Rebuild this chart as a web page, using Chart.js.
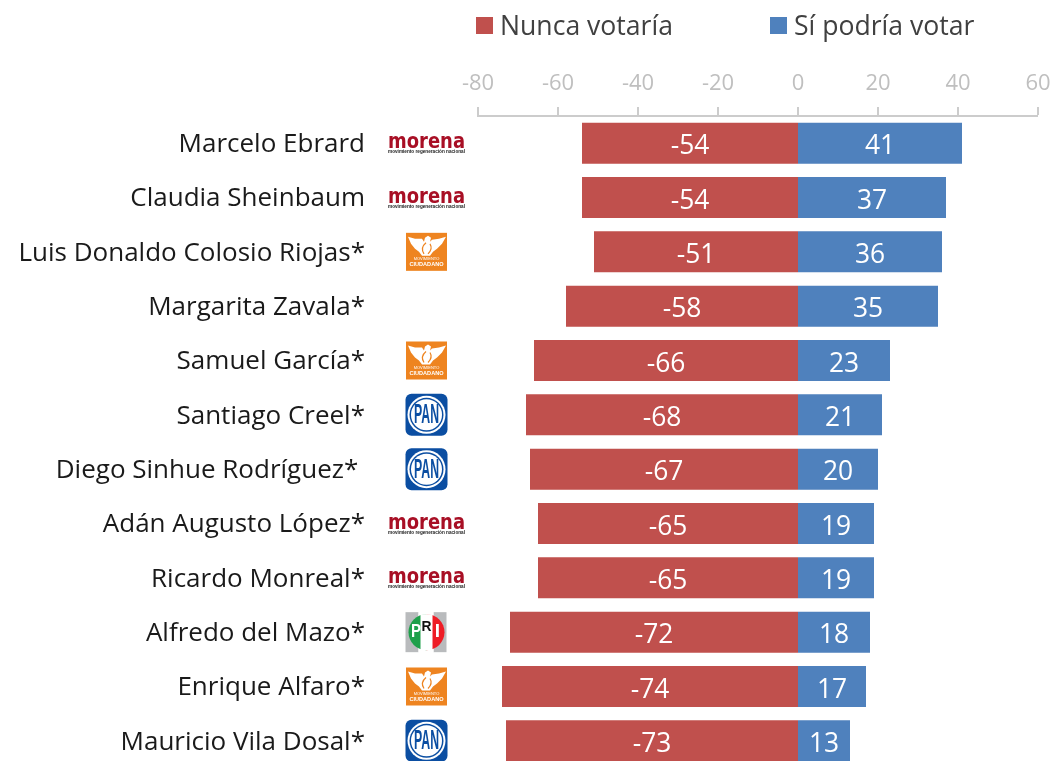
<!DOCTYPE html>
<html lang="es">
<head>
<meta charset="utf-8">
<title>Nunca votaría / Sí podría votar</title>
<script src="https://cdn.jsdelivr.net/npm/chart.js@4/dist/chart.umd.min.js"></script>
<style>
    html, body { margin: 0; padding: 0; background: #fff; overflow: hidden; }
    #wrap { position: relative; width: 1053px; height: 761px; overflow: hidden; }
    #chart { position: absolute; left: 0; top: 0; }
    .legend-item { position: absolute; top: 7px; display: flex; align-items: center; color: #404040;
        font: 26.6px "Open Sans", sans-serif; line-height: 36px; white-space: nowrap; }
    .legend-item i { display: block; width: 17px; height: 17px; margin-right: 7px; }
</style>
</head>
<body>
<div id="wrap">
    <canvas id="chart" width="1053" height="768"></canvas>
    <div id="legend"></div>
</div>
<script>
const candidates = [
    'Marcelo Ebrard', 'Claudia Sheinbaum', 'Luis Donaldo Colosio Riojas*', 'Margarita Zavala*',
    'Samuel García*', 'Santiago Creel*', 'Diego Sinhue Rodríguez* ', 'Adán Augusto López*',
    'Ricardo Monreal*', 'Alfredo del Mazo*', 'Enrique Alfaro*', 'Mauricio Vila Dosal*'
];
const nuncaVotaria = [-54, -54, -51, -58, -66, -68, -67, -65, -65, -72, -74, -73];
const siPodriaVotar = [41, 37, 36, 35, 23, 21, 20, 19, 19, 18, 17, 13];
const parties = ['morena', 'morena', 'mc', null, 'mc', 'pan', 'pan', 'morena', 'morena', 'pri', 'mc', 'pan'];

const RED = '#C0504D';
const BLUE = '#4F81BD';
const FONT = '"Open Sans", sans-serif';

// Party logos, centred on (cx, cy)
function drawMorena(ctx, cx, cy) {
    ctx.textAlign = 'center';
    ctx.textBaseline = 'alphabetic';
    ctx.fillStyle = '#A80F25';
    ctx.font = 'bold 21px "DejaVu Sans", sans-serif';
    ctx.fillText('morena', cx, cy + 5, 77);
    ctx.fillStyle = '#222';
    ctx.font = 'bold 5px "Liberation Sans", sans-serif';
    ctx.fillText('movimiento regeneración nacional', cx, cy + 10, 77);
}

function drawCiudadano(ctx, cx, cy) {
    const x = cx - 20.5, y = cy - 19;
    const bird = [[2, 4], [9, 6], [16, 6], [18, 9], [19, 5], [22, 3], [25, 5], [24, 9], [26, 7], [33, 6],
        [40, 4], [36, 11], [31, 16], [27, 19], [24, 23], [16, 23], [13, 19], [9, 16], [5, 11]];
    ctx.fillStyle = '#EE8420';
    ctx.fillRect(x, y, 41, 38);
    ctx.fillStyle = '#fff';
    ctx.beginPath();
    bird.forEach(([px, py], i) => {
        if (i === 0) ctx.moveTo(x + px, y + py);
        else ctx.lineTo(x + px, y + py);
    });
    ctx.closePath();
    ctx.fill();
    ctx.strokeStyle = '#EE8420';
    ctx.lineWidth = 1.2;
    ctx.beginPath();
    ctx.moveTo(x + 20, y + 10);
    ctx.quadraticCurveTo(x + 14, y + 15, x + 18, y + 21);
    ctx.moveTo(x + 24, y + 11);
    ctx.quadraticCurveTo(x + 27, y + 16, x + 22, y + 21);
    ctx.stroke();
    ctx.textAlign = 'center';
    ctx.textBaseline = 'middle';
    ctx.font = '4px "Liberation Sans", sans-serif';
    ctx.fillText('MOVIMIENTO', cx, y + 26, 26);
    ctx.font = 'bold 6px "Liberation Sans", sans-serif';
    ctx.fillText('CIUDADANO', cx, y + 32, 34);
}

function drawPan(ctx, cx, cy) {
    ctx.fillStyle = '#0B4EA2';
    ctx.beginPath();
    ctx.roundRect(cx - 21, cy - 21, 42, 42, 6);
    ctx.fill();
    ctx.fillStyle = '#fff';
    ctx.beginPath();
    ctx.arc(cx, cy, 19, 0, Math.PI * 2);
    ctx.fill();
    ctx.fillStyle = '#0B4EA2';
    ctx.beginPath();
    ctx.arc(cx, cy, 17, 0, Math.PI * 2);
    ctx.fill();
    ctx.fillStyle = '#fff';
    ctx.beginPath();
    ctx.arc(cx, cy, 15.5, 0, Math.PI * 2);
    ctx.fill();
    ctx.fillStyle = '#0B4EA2';
    ctx.textAlign = 'center';
    ctx.textBaseline = 'middle';
    ctx.font = 'bold 27px "Liberation Sans Narrow", "Liberation Sans", sans-serif';
    ctx.fillText('PAN', cx, cy + 1, 25);
}

function drawPri(ctx, cx, cy) {
    const x = cx - 21, y = cy - 20;
    ctx.fillStyle = '#B9BBBD';
    ctx.fillRect(x, y, 13, 40);
    ctx.fillRect(x + 28, y, 13, 40);
    ctx.fillStyle = '#fff';
    ctx.fillRect(x + 13, y, 15, 40);
    ctx.fillStyle = '#1FA04B';
    ctx.beginPath();
    ctx.arc(cx, cy, 18, Math.PI * 0.5, Math.PI * 1.5);
    ctx.closePath();
    ctx.fill();
    ctx.fillStyle = '#EE1C25';
    ctx.beginPath();
    ctx.arc(cx, cy, 18, -Math.PI * 0.5, Math.PI * 0.5);
    ctx.closePath();
    ctx.fill();
    ctx.fillStyle = '#fff';
    ctx.fillRect(cx - 6, cy - 18, 12, 36);
    ctx.textAlign = 'center';
    ctx.textBaseline = 'middle';
    ctx.font = 'bold 19px "Liberation Sans Narrow", "Liberation Sans", sans-serif';
    ctx.fillText('P', cx - 10.5, cy, 10);
    ctx.fillText('I', cx + 11, cy, 6);
    ctx.fillStyle = '#111';
    ctx.font = 'bold 14px "Liberation Sans", sans-serif';
    ctx.fillText('R', cx, cy - 5, 10);
}

const logoDrawers = { morena: drawMorena, mc: drawCiudadano, pan: drawPan, pri: drawPri };

const partyLogos = {
    id: 'partyLogos',
    afterDraw(chart) {
        const ctx = chart.ctx;
        const yScale = chart.scales.y;
        parties.forEach((party, i) => {
            if (!party) return;
            ctx.save();
            logoDrawers[party](ctx, 426.5, yScale.getPixelForValue(i));
            ctx.restore();
        });
    }
};

// Value labels in the middle of each bar
const barLabels = {
    id: 'barLabels',
    afterDatasetsDraw(chart) {
        const ctx = chart.ctx;
        ctx.save();
        ctx.fillStyle = '#fff';
        ctx.font = '26.4px ' + FONT;
        ctx.textAlign = 'center';
        ctx.textBaseline = 'middle';
        chart.data.datasets.forEach((dataset, d) => {
            chart.getDatasetMeta(d).data.forEach((bar, i) => {
                const pos = bar.getCenterPoint();
                ctx.fillText(dataset.data[i], pos.x, pos.y + 3.5);
            });
        });
        ctx.restore();
    }
};

const chart = new Chart(document.getElementById('chart'), {
    type: 'bar',
    data: {
        labels: candidates,
        datasets: [
            { label: 'Nunca votaría', data: nuncaVotaria, backgroundColor: RED },
            { label: 'Sí podría votar', data: siPodriaVotar, backgroundColor: BLUE }
        ]
    },
    options: {
        indexAxis: 'y',
        responsive: false,
        animation: false,
        layout: { padding: { right: 15 } },
        datasets: { bar: { barPercentage: 1, categoryPercentage: 0.755 } },
        scales: {
            x: {
                position: 'top',
                stacked: true,
                min: -80,
                max: 60,
                // tick padding also inflates the side padding of the scale, drop it
                afterFit: (scale) => {
                    scale.height = 116;
                    scale.paddingRight = 0;
                },
                border: { color: '#CCCCCC', width: 2 },
                // lineWidth 0 so the bars meet at zero, the ticks use tickWidth
                grid: { drawOnChartArea: false, lineWidth: 0, tickWidth: 2, tickColor: '#CCCCCC', tickLength: 9 },
                ticks: {
                    stepSize: 20,
                    maxRotation: 0,
                    padding: 10,
                    color: '#BFBFBF',
                    font: { family: FONT, size: 22 }
                }
            },
            y: {
                stacked: true,
                afterFit: (scale) => {
                    scale.width = 478;
                    scale.paddingTop = 0;
                    scale.paddingBottom = 0;
                },
                border: { display: false },
                grid: { display: false, drawTicks: false },
                ticks: {
                    autoSkip: false,
                    padding: 113,
                    labelOffset: 1.5,
                    color: '#1A1A1A',
                    font: { family: FONT, size: 26 }
                }
            }
        },
        plugins: {
            legend: { display: false },
            tooltip: { enabled: true }
        }
    },
    plugins: [barLabels, partyLogos]
});

// Legend as plain html, built from the datasets
const legendLeft = [476, 770];
chart.data.datasets.forEach((dataset, i) => {
    const item = document.createElement('div');
    item.className = 'legend-item';
    item.style.left = legendLeft[i] + 'px';
    const box = document.createElement('i');
    box.style.background = dataset.backgroundColor;
    item.appendChild(box);
    item.appendChild(document.createTextNode(dataset.label));
    document.getElementById('legend').appendChild(item);
});
</script>
</body>
</html>
